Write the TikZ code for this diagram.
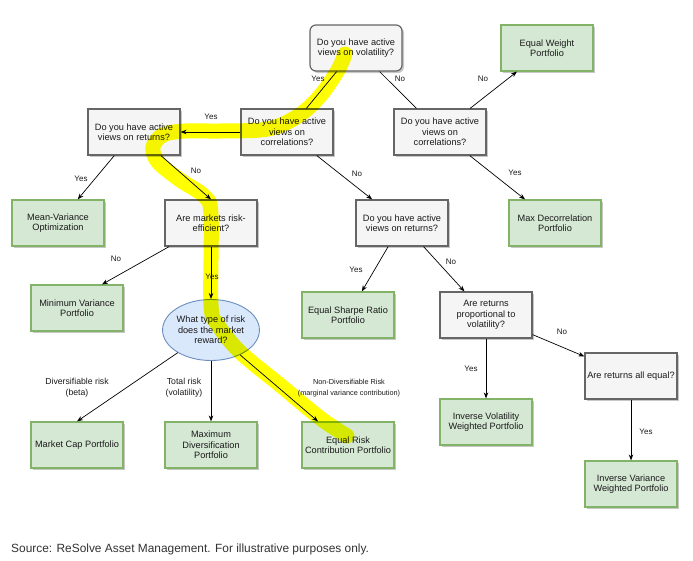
\documentclass[tikz,border=0pt]{standalone}
\usepackage{fontspec}
\setmainfont{Liberation Sans}
\usetikzlibrary{arrows.meta, shapes.geometric, shadows}
\definecolor{qfill}{HTML}{F5F5F5}
\definecolor{qline}{HTML}{666666}
\definecolor{gfill}{HTML}{D5E8D4}
\definecolor{gline}{HTML}{82B366}
\definecolor{efill}{HTML}{DAE8FC}
\definecolor{eline}{HTML}{6C8EBF}
\definecolor{inkdark}{HTML}{1A1A1A}
\definecolor{srcgray}{HTML}{333333}
\definecolor{marker}{HTML}{FFFF00}
\tikzset{
  question/.style={
    draw=qline, fill=qfill, line width=1.2pt, text=inkdark,
    minimum width=92pt, minimum height=46pt, inner sep=2pt, align=center,
    font=\fontsize{9.2}{10.5}\selectfont,
    drop shadow={shadow xshift=2pt, shadow yshift=-2pt, fill=black, opacity=0.22}
  },
  leaf/.style={question, draw=gline, fill=gfill},
  riskq/.style={
    ellipse, draw=eline, fill=efill, line width=0.9pt, text=inkdark,
    minimum width=92pt, minimum height=61pt, inner sep=0pt, align=center,
    font=\fontsize{9.2}{10.5}\selectfont
  },
  arrow/.style={-{Stealth[length=6pt, width=4.5pt]}, line width=0.7pt, black},
  link/.style={line width=0.7pt, black},
  lbl/.style={font=\fontsize{8}{11}\selectfont, text=inkdark, align=center, inner sep=0pt},
  highlight/.style={draw=marker, line width=15pt, line cap=round, line join=round,
    blend mode=multiply}
}

\begin{document}
\begin{tikzpicture}[x=1pt, y=-1pt]
  \useasboundingbox (0,0) rectangle (693,560);
  \fill[white] (0,0) rectangle (693,560);

  % questions
  \node[question, rounded corners=6pt] (vol) at (356,48) {Do you have active\\views on volatility?};
  \node[question] (corra) at (287,132) {Do you have active\\views on\\correlations?};
  \node[question] (corrb) at (440,132) {Do you have active\\views on\\correlations?};
  \node[question] (reta) at (134,132) {Do you have active\\views on returns?};
  \node[question] (eff) at (211,223) {Are markets risk-\\efficient?};
  \node[question] (retb) at (402,223) {Do you have active\\views on returns?};
  \node[question] (prop) at (486,315) {Are returns\\proportional to\\volatility?};
  \node[question] (alleq) at (631,376) {Are returns all equal?};
  \node[riskq] (risk) at (211,330) {What type of risk\\does the market\\reward?};

  % portfolios
  \node[leaf] (eqw) at (547,48) {Equal Weight\\Portfolio};
  \node[leaf] (mvo) at (58,223) {Mean-Variance\\Optimization};
  \node[leaf] (maxdec) at (555,223) {Max Decorrelation\\Portfolio};
  \node[leaf] (minvar) at (77,308) {Minimum Variance\\Portfolio};
  \node[leaf] (sharpe) at (348,315) {Equal Sharpe Ratio\\Portfolio};
  \node[leaf] (invvol) at (486,422) {Inverse Volatility\\Weighted Portfolio};
  \node[leaf] (invvar) at (631,484) {Inverse Variance\\Weighted Portfolio};
  \node[leaf] (mcap) at (77,445) {Market Cap Portfolio};
  \node[leaf] (maxdiv) at (211,445) {Maximum\\Diversification\\Portfolio};
  \node[leaf] (erc) at (348,445) {Equal Risk\\Contribution Portfolio};

  % connectors
  \draw[link] (vol) -- (corra) node[lbl] at (318,79) {Yes};
  \draw[link] (vol) -- (corrb) node[lbl] at (400,79) {No};
  \draw[arrow] (corra) -- (reta) node[lbl] at (211,117) {Yes};
  \draw[arrow] (reta) -- (mvo) node[lbl] at (81,179) {Yes};
  \draw[arrow] (reta) -- (eff.north) node[lbl] at (196,171) {No};
  \draw[arrow] (corra) -- (retb) node[lbl] at (357,174) {No};
  \draw[arrow] (corrb) -- (eqw) node[lbl] at (483,79) {No};
  \draw[arrow] (corrb) -- ([xshift=-30pt]maxdec.north) node[lbl] at (515,173) {Yes};
  \draw[arrow] (eff) -- ([xshift=25pt]minvar.north) node[lbl] at (116,259) {No};
  \draw[arrow] (eff) -- (risk) node[lbl] at (212,277) {Yes};
  \draw[arrow] (risk) -- (mcap.north)
    node[lbl, font=\fontsize{8.7}{11}\selectfont] at (77,388) {Diversifiable risk\\(beta)};
  \draw[arrow] (risk) -- (maxdiv)
    node[lbl, font=\fontsize{8.7}{11}\selectfont] at (184,388) {Total risk\\(volatility)};
  \draw[arrow] (risk) -- ([xshift=-30pt]erc.north)
    node[lbl, font=\fontsize{7.3}{11}\selectfont] at (349,388) {Non-Diversifiable Risk\\(marginal variance contribution)};
  \draw[arrow] (retb) -- (sharpe) node[lbl] at (356,270) {Yes};
  \draw[arrow] (retb) -- (prop) node[lbl] at (451,262) {No};
  \draw[arrow] (prop) -- (invvol) node[lbl] at (471,369) {Yes};
  \draw[arrow] (prop) -- (alleq) node[lbl] at (562,332) {No};
  \draw[arrow] (alleq) -- (invvar) node[lbl] at (646,432) {Yes};

  % highlighted path
  \draw[highlight] plot[smooth, tension=0.55] coordinates {
    (345,54) (338,70) (320,96) (298,116) (268,129) (220,131) (185,131)
    (163,135) (153,147) (158,162) (180,180) (204,196) (211,215) (211,305)
    (218,325) (240,352) (280,385) (320,418) (347,436)};

  \node[anchor=west, font=\fontsize{11.9}{14}\selectfont, text=srcgray, inner sep=0pt] (src) at (11,549)
    {Source: ReSolve Asset Management. For illustrative purposes only.};
\end{tikzpicture}
\end{document}
